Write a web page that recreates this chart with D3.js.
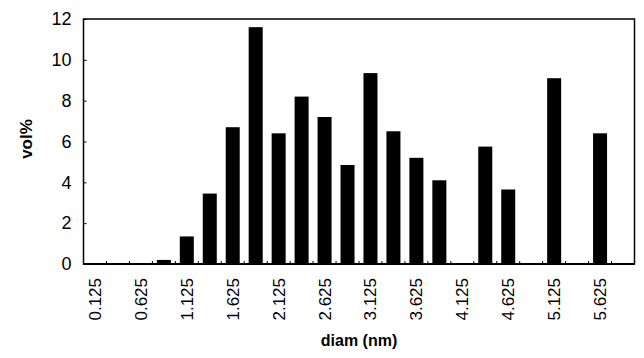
<!DOCTYPE html>
<html>
<head>
<meta charset="utf-8">
<script src="https://cdn.jsdelivr.net/npm/d3@7"></script>
<style>
  body { margin: 0; background: #fff; }
  svg { font-family: "Liberation Sans", Arial, sans-serif; }
</style>
</head>
<body>
<div id="chart"></div>
<script>
// size classes (nm), one bar per class
var diams = ["0.125", "0.375", "0.625", "0.875", "1.125", "1.375", "1.625", "1.875",
             "2.125", "2.375", "2.625", "2.875", "3.125", "3.375", "3.625", "3.875",
             "4.125", "4.375", "4.625", "4.875", "5.125", "5.375", "5.625", "5.875"];
// vol% per class
var volPct = [0, 0, 0, 0.2, 1.35, 3.45, 6.7, 11.6,
              6.4, 8.2, 7.2, 4.85, 9.35, 6.5, 5.2, 4.1,
              0, 5.75, 3.65, 0, 9.1, 0, 6.4, 0];
// labelled classes on the x axis
var xLabels = ["0.125", "0.625", "1.125", "1.625", "2.125", "2.625",
               "3.125", "3.625", "4.125", "4.625", "5.125", "5.625"];
var yTicks = [0, 2, 4, 6, 8, 10, 12];

var width = 644, height = 358;
var plotL = 83.5, plotR = 634.5, plotT = 19, plotB = 264;

var svg = d3.select('#chart')
      .append('svg')
      .attr('width', width)
      .attr('height', height);

//scales
var x = d3.scaleBand().domain(diams).range([plotL, plotR])
      .paddingInner(0.39).paddingOuter(0.195);
var y = d3.scaleLinear().domain([0, 12]).range([plotB, plotT]);

//bars
svg.selectAll('rect.bar')
      .data(diams)
      .enter().append('rect')
      .attr('class', 'bar')
      .attr('x', function (d) { return x(d); })
      .attr('width', x.bandwidth())
      .attr('y', function (d, i) { return y(volPct[i]); })
      .attr('height', function (d, i) { return y(0) - y(volPct[i]); })
      .style('fill', '#000');

//small inward ticks between classes
var gap = (x.step() - x.bandwidth()) / 2;
svg.selectAll('line.xtick')
      .data(diams.slice(1))
      .enter().append('line')
      .attr('class', 'xtick')
      .attr('x1', function (d) { return x(d) - gap; })
      .attr('x2', function (d) { return x(d) - gap; })
      .attr('y1', plotB)
      .attr('y2', plotB - 3)
      .style('stroke', '#000')
      .style('stroke-width', 1);

//frame
svg.append('rect')
      .attr('x', plotL).attr('y', plotT)
      .attr('width', plotR - plotL).attr('height', plotB - plotT)
      .style('fill', 'none')
      .style('stroke', '#000')
      .style('stroke-width', 1.5);
svg.append('line')
      .attr('x1', plotL).attr('x2', plotR)
      .attr('y1', plotB).attr('y2', plotB)
      .style('stroke', '#000')
      .style('stroke-width', 2);

//y axis
var yAxis = svg.append('g')
      .attr('transform', 'translate(' + plotL + ',0)')
      .call(d3.axisLeft(y).tickValues(yTicks).tickSizeInner(-3).tickSizeOuter(0).tickPadding(12));
yAxis.select('.domain').remove();
yAxis.selectAll('text').style('font-size', '18px').style('fill', '#000');

//x axis
var xAxis = svg.append('g')
      .attr('transform', 'translate(0,' + plotB + ')')
      .call(d3.axisBottom(x).tickValues(xLabels).tickSize(0));
xAxis.select('.domain').remove();
xAxis.selectAll('text')
      .style('font-size', '17px')
      .style('fill', '#000')
      .attr('text-anchor', 'end')
      .attr('dy', null)
      .attr('y', 0)
      .attr('transform', 'translate(6,14) rotate(-90)');

//axis titles
svg.append('text')
      .attr('transform', 'translate(32,139) rotate(-90)')
      .attr('text-anchor', 'middle')
      .style('font-size', '17px')
      .style('font-weight', 'bold')
      .text('vol%');
svg.append('text')
      .attr('x', (plotL + plotR) / 2)
      .attr('y', 346)
      .attr('text-anchor', 'middle')
      .style('font-size', '16px')
      .style('font-weight', 'bold')
      .text('diam (nm)');
</script>
</body>
</html>
